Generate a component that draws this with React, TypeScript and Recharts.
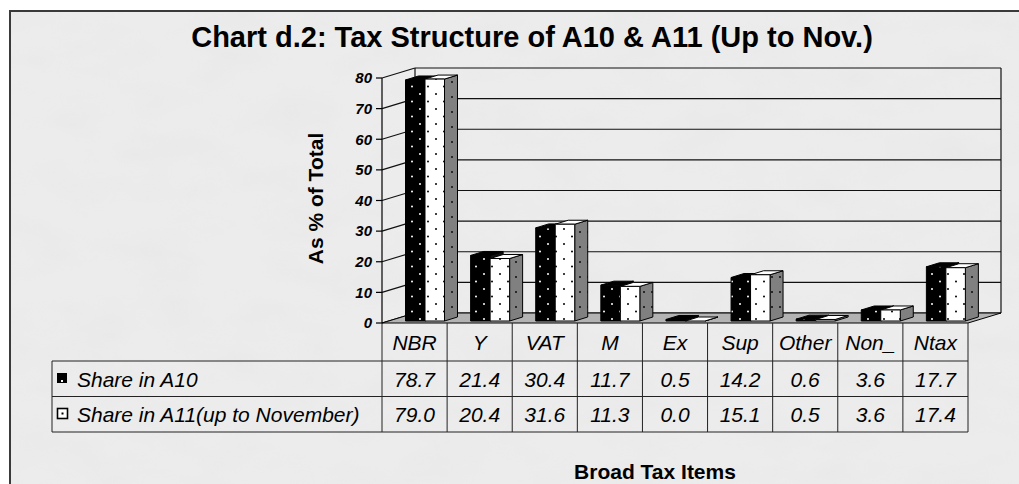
import React from "react";
import { BarChart, Bar, XAxis, YAxis } from "recharts";

const categories = ["NBR", "Y", "VAT", "M", "Ex", "Sup", "Other", "Non_", "Ntax"];
const shareA10 = [78.7, 21.4, 30.4, 11.7, 0.5, 14.2, 0.6, 3.6, 17.7];
const shareA11 = [79.0, 20.4, 31.6, 11.3, 0.0, 15.1, 0.5, 3.6, 17.4];
const seriesNames = ["Share in A10", "Share in A11(up to November)"];
const yTicks = [0, 10, 20, 30, 40, 50, 60, 70, 80];

const chartData = categories.map((cat, i) => ({
  cat,
  a10: shareA10[i],
  a11: shareA11[i],
}));

const W = 1019;
const H = 484;
const FONT = "'Liberation Sans', Arial, sans-serif";

// plot box (front plane)
const LEFT = 382;
const RIGHT = 968;
const TOP = 78;
const BOTTOM = 323;
const PER_UNIT = (BOTTOM - TOP) / 80;
// depth of the 3d box
const BOX_DX = 33;
const BOX_DY = 10;
// bar offsets
const SHIFT_X = 10.5;
const SHIFT_Y = -2;
const BAR_DX = 13;
const BAR_DY = 4;

const colW = (RIGHT - LEFT) / categories.length;
const ROW1 = 361;
const ROW2 = 396.5;
const ROW3 = 432;
const TABLE_LEFT = 52;

const make3D = (front: string, topFill: string, sideFill: string) => (props: any) => {
  const { x, y, width, height } = props;
  if (x == null || y == null) return <g />;
  const fx = x + SHIFT_X;
  const fy = y + SHIFT_Y;
  const h = Math.max(height || 0, 0);
  const w = width;
  const top = `M${fx},${fy} L${fx + w},${fy} L${fx + w + BAR_DX},${fy - BAR_DY} L${fx + BAR_DX},${fy - BAR_DY} Z`;
  const side = `M${fx + w},${fy} L${fx + w + BAR_DX},${fy - BAR_DY} L${fx + w + BAR_DX},${fy + h - BAR_DY} L${fx + w},${fy + h} Z`;
  return (
    <g stroke="#000" strokeWidth={1} strokeLinejoin="round">
      <path d={side} fill={sideFill} />
      <path d={top} fill={topFill} />
      <rect x={fx} y={fy} width={w} height={h} fill={front} />
    </g>
  );
};

const TableTick = (props: any) => {
  const { x, payload } = props;
  const i = categories.indexOf(payload.value);
  return (
    <g fontFamily={FONT} fontStyle="italic" fontSize={21} textAnchor="middle" fill="#000">
      <text x={x} y={350}>{categories[i]}</text>
      <text x={x} y={387}>{shareA10[i].toFixed(1)}</text>
      <text x={x} y={422}>{shareA11[i].toFixed(1)}</text>
    </g>
  );
};

const Backdrop = () => {
  const backY = (v: number) => BOTTOM - BOX_DY - v * PER_UNIT;
  const frontY = (v: number) => BOTTOM - v * PER_UNIT;
  return (
    <svg width={W} height={H} style={{ position: "absolute", left: 0, top: 0 }}>
      <defs>
        <filter id="paper" x="0" y="0" width="100%" height="100%">
          <feTurbulence type="fractalNoise" baseFrequency="0.015 0.03" numOctaves={3} seed={4} />
          <feColorMatrix
            type="matrix"
            values="0 0 0 0 0.6  0 0 0 0 0.6  0 0 0 0 0.6  0.5 0 0 0 -0.2"
          />
        </filter>
        <pattern id="blackDots" width={16} height={15} patternUnits="userSpaceOnUse">
          <rect width={16} height={15} fill="#000" />
          <circle cx={4} cy={4} r={1} fill="#fff" />
          <circle cx={12} cy={11.5} r={1} fill="#fff" />
        </pattern>
        <pattern id="whiteDots" width={16} height={15} patternUnits="userSpaceOnUse">
          <rect width={16} height={15} fill="#fff" />
          <circle cx={4} cy={4} r={1} fill="#000" />
          <circle cx={12} cy={11.5} r={1} fill="#000" />
        </pattern>
        <pattern id="grayDots" width={8} height={15} patternUnits="userSpaceOnUse">
          <rect width={8} height={15} fill="#808080" />
          <circle cx={4} cy={7} r={0.9} fill="#000" />
        </pattern>
      </defs>

      <rect x={10} y={11} width={1020} height={490} fill="#ececec" />
      <rect x={10} y={11} width={1020} height={490} filter="url(#paper)" opacity={0.35} />
      <rect x={10} y={11} width={1020} height={490} fill="none" stroke="#3a3a3a" strokeWidth={2} />

      <text x={532} y={47} fontFamily={FONT} fontWeight="bold" fontSize={29} textAnchor="middle">
        Chart d.2: Tax Structure of A10 &amp; A11 (Up to Nov.)
      </text>
      <text
        x={323}
        y={198.5}
        transform="rotate(-90 323 198.5)"
        fontFamily={FONT}
        fontWeight="bold"
        fontSize={21}
        textAnchor="middle"
      >
        As % of Total
      </text>

      {/* back wall and left wall grid */}
      <g stroke="#111" strokeWidth={1.2}>
        {yTicks.map((v) => (
          <line key={`g${v}`} x1={LEFT + BOX_DX} x2={RIGHT + BOX_DX} y1={backY(v)} y2={backY(v)} />
        ))}
        {yTicks.map((v) => (
          <line key={`s${v}`} x1={LEFT} x2={LEFT + BOX_DX} y1={frontY(v)} y2={backY(v)} />
        ))}
        <line x1={LEFT + BOX_DX} x2={LEFT + BOX_DX} y1={backY(80)} y2={backY(0)} />
        <line x1={RIGHT + BOX_DX} x2={RIGHT + BOX_DX} y1={backY(80)} y2={backY(0)} />
      </g>
      <polygon
        points={`${LEFT},${BOTTOM} ${RIGHT},${BOTTOM} ${RIGHT + BOX_DX},${BOTTOM - BOX_DY} ${LEFT + BOX_DX},${BOTTOM - BOX_DY}`}
        fill="#b3b3b3"
        stroke="#000"
        strokeWidth={1}
      />

      {/* data table grid */}
      <g stroke="#222" strokeWidth={1}>
        {categories.map((_, i) => (
          <line key={`c${i}`} x1={LEFT + i * colW} x2={LEFT + i * colW} y1={BOTTOM} y2={ROW3} />
        ))}
        <line x1={RIGHT} x2={RIGHT} y1={BOTTOM} y2={ROW3} />
        <line x1={TABLE_LEFT} x2={TABLE_LEFT} y1={ROW1} y2={ROW3} />
        <line x1={TABLE_LEFT} x2={RIGHT} y1={ROW1} y2={ROW1} />
        <line x1={TABLE_LEFT} x2={RIGHT} y1={ROW2} y2={ROW2} />
        <line x1={TABLE_LEFT} x2={RIGHT} y1={ROW3} y2={ROW3} />
      </g>

      {/* legend keys */}
      <rect x={57} y={373} width={10} height={10} fill="#000" />
      <rect x={61} y={380} width={2} height={2} fill="#fff" />
      <rect x={57.5} y={408.5} width={10} height={10} fill="#fff" stroke="#000" strokeWidth={1.6} />
      <rect x={61.5} y={412.5} width={2} height={2} fill="#000" />
      <g fontFamily={FONT} fontStyle="italic" fontSize={21} fill="#000">
        <text x={77} y={387}>{seriesNames[0]}</text>
        <text x={77} y={422}>{seriesNames[1]}</text>
      </g>

      <text x={655} y={479} fontFamily={FONT} fontWeight="bold" fontSize={21} textAnchor="middle">
        Broad Tax Items
      </text>
    </svg>
  );
};

export default function App() {
  return (
    <div style={{ position: "absolute", left: 0, top: 0, width: W, height: H }}>
      <Backdrop />
      <div style={{ position: "absolute", left: 0, top: 0 }}>
        <BarChart
          width={W}
          height={H}
          data={chartData}
          margin={{ top: TOP, right: W - RIGHT, bottom: H - BOTTOM - 30, left: LEFT - 50 }}
          barSize={19.5}
          barGap={0}
        >
          <XAxis
            dataKey="cat"
            height={30}
            axisLine={false}
            tickLine={false}
            interval={0}
            tick={<TableTick />}
          />
          <YAxis
            width={50}
            domain={[0, 80]}
            ticks={yTicks}
            interval={0}
            tickSize={6}
            tickMargin={4}
            axisLine={{ stroke: "#000", strokeWidth: 1.2 }}
            tickLine={{ stroke: "#000", strokeWidth: 1.2 }}
            tick={{ fontFamily: FONT, fontSize: 15, fontWeight: "bold", fontStyle: "italic", fill: "#000" }}
          />
          <Bar
            dataKey="a10"
            name={seriesNames[0]}
            isAnimationActive={false}
            shape={make3D("url(#blackDots)", "#000", "#111")}
          />
          <Bar
            dataKey="a11"
            name={seriesNames[1]}
            isAnimationActive={false}
            shape={make3D("url(#whiteDots)", "#fff", "url(#grayDots)")}
          />
        </BarChart>
      </div>
    </div>
  );
}
